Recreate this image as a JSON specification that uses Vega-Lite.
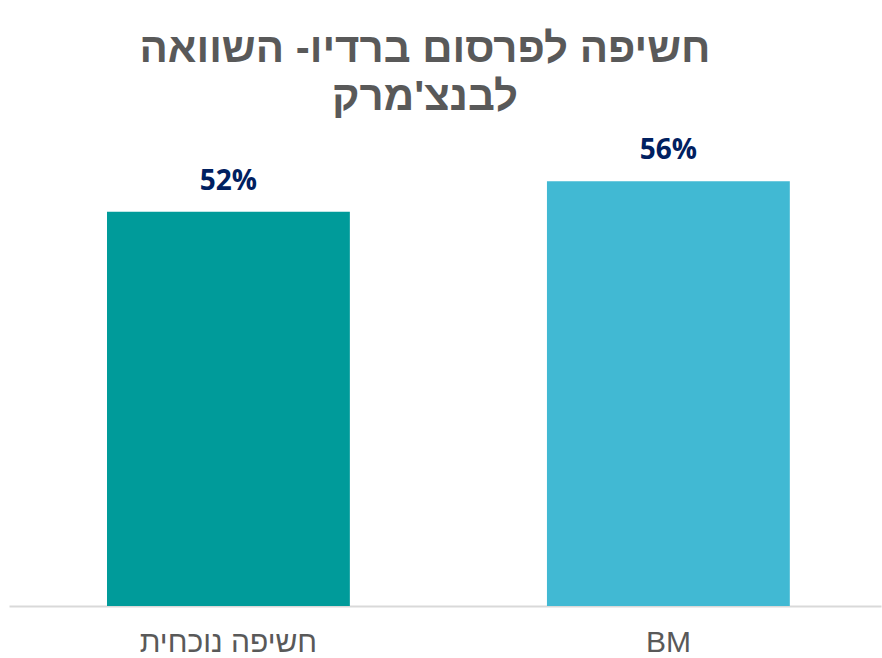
{
  "$schema": "https://vega.github.io/schema/vega-lite/v6.json",
  "width": 872,
  "height": 455,
  "padding": {"left": 9, "right": 1, "top": 28, "bottom": 0},
  "autosize": {"type": "pad"},
  "background": "white",
  "title": {
    "text": ["חשיפה לפרסום ברדיו- השוואה", "לבנצ'מרק"],
    "font": "Liberation Sans",
    "fontSize": 42,
    "fontWeight": "bold",
    "color": "#595959",
    "anchor": "middle",
    "lineHeight": 48,
    "offset": 18,
    "dx": -20
  },
  "config": {"view": {"stroke": null}},
  "data": {
    "values": [
      {"category": "חשיפה נוכחית", "value": 0.52},
      {"category": "BM", "value": 0.56}
    ]
  },
  "encoding": {
    "x": {
      "field": "category",
      "type": "nominal",
      "sort": ["חשיפה נוכחית", "BM"],
      "scale": {"paddingInner": 0.448, "paddingOuter": 0.215, "align": 0.518},
      "axis": {
        "title": null,
        "labelAngle": 0,
        "ticks": false,
        "domainColor": "#D9D9D9",
        "domainWidth": 2,
        "labelFont": "Liberation Sans",
        "labelFontSize": 30,
        "labelColor": "#595959",
        "labelPadding": 21,
        "labelLimit": 500
      }
    },
    "y": {
      "field": "value",
      "type": "quantitative",
      "scale": {"domain": [0, 0.6]},
      "axis": null
    }
  },
  "layer": [
    {
      "mark": {"type": "bar"},
      "encoding": {
        "color": {
          "field": "category",
          "type": "nominal",
          "scale": {"domain": ["חשיפה נוכחית", "BM"], "range": ["#009B9A", "#41B9D3"]},
          "legend": null
        }
      }
    },
    {
      "mark": {"type": "text", "dy": -16, "baseline": "bottom", "font": "Open Sans", "fontWeight": "bold", "fontSize": 28, "color": "#002060"},
      "encoding": {"text": {"field": "value", "type": "quantitative", "format": ".0%"}}
    }
  ]
}
